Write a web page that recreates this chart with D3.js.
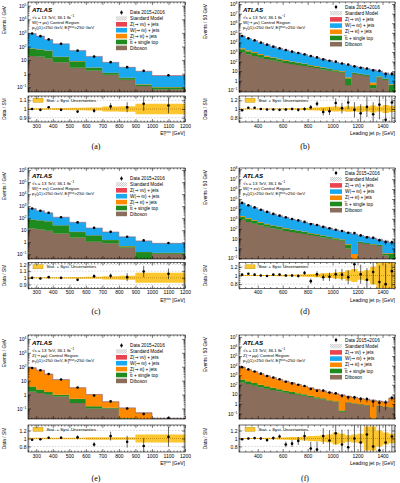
<!DOCTYPE html>
<html>
<head>
<meta charset="utf-8">
<style>
  body { margin: 0; background: #fff; }
  svg { display: block; font-family: "Liberation Sans", "DejaVu Sans", Arial, sans-serif; }
</style>
</head>
<body>
<script src="https://cdn.jsdelivr.net/npm/d3@7"></script>
<script>
// ---- binning and tick labels ----
const metEdges = [250, 300, 350, 400, 500, 600, 700, 800, 900, 1000, 1200];
const ptEdges = [250, 300, 350, 400, 450, 500, 550, 600, 650, 700, 750, 800, 850, 900, 950,
  1000, 1050, 1100, 1150, 1200, 1250, 1300, 1350, 1400, 1450, 1500];
const metTicks = [300, 400, 500, 600, 700, 800, 900, 1000, 1100, 1200];
const ptTicks = [400, 600, 800, 1000, 1200, 1400];

// ---- (a) W->munu CR, MET, events / GeV ----
const aData = [900, 575, 330, 155, 49, 18, 7, 3, 1.6, 0.75];
const aRatio = [1.0, 0.99, 1.02, 0.99, 0.97, 0.98, 1.03, 1.02, 1.06, 1.04];
const aErr = [0.005, 0.006, 0.008, 0.008, 0.014, 0.024, 0.038, 0.058, 0.08, 0.09];
const aBand = [0.01, 0.01, 0.01, 0.012, 0.014, 0.018, 0.028, 0.032, 0.06, 0.06];
const aDiboson = [20, 18, 13, 7, 2.7, 1.7, 0.84, 0.35, 0.125, 0.07];
const aTop = [50, 42, 35, 10, 5.5, 1.0, 0.3, 0.12, 0.03, 0.03];
const aZll = [4, 3, 2, 0.8, 0.3, 0.1, 0.04, 0.02, 0.01, 0.005];
const aWlnu = [825, 517, 274, 139, 42, 15.6, 5.6, 2.44, 1.34, 0.61];
const aZnn = [1.0, 0.7, 0.4, 0.2, 0.07, 0.03, 0.01, 0.005, 0.003, 0.002];

// ---- (b) W->munu CR, leading jet pT, events / 50 GeV ----
const bData = [45700, 26300, 16200, 9330, 5750, 3550, 2340, 1580, 1070, 775, 560, 374, 274, 167, 122, 97, 63, 49.5, 31.4, 22.5, 18.9, 12.3, 11, 4.9, 5.2];
const bRatio = [0.97, 1.03, 1.03, 1.0, 0.99, 0.99, 0.98, 0.99, 1.0, 0.98, 1.0, 1.04, 1.12, 0.93, 0.95, 1.14, 1.02, 1.15, 0.98, 0.9, 1.05, 0.88, 1.1, 0.75, 1.15];
const bErr = [0.005, 0.006, 0.008, 0.01, 0.013, 0.017, 0.02, 0.025, 0.03, 0.036, 0.042, 0.052, 0.061, 0.077, 0.09, 0.106, 0.124, 0.15, 0.177, 0.21, 0.235, 0.28, 0.34, 0.57, 0.45];
const bBand = [0.01, 0.01, 0.01, 0.01, 0.01, 0.012, 0.013, 0.015, 0.017, 0.02, 0.025, 0.03, 0.035, 0.045, 0.05, 0.06, 0.05, 0.065, 0.06, 0.07, 0.06, 0.08, 0.06, 0.09, 0.07];
const bDiboson = [910, 560, 375, 250, 182, 132, 95, 69, 55, 43, 34, 27, 21, 15, 11, 8.7, 6.8, 0.35, 5, 3.9, 3.1, 0.16, 2.2, 1.2, 0.07];
const bTop = [950, 590, 395, 230, 138, 103, 75, 54, 34, 26, 21, 13, 10, 8, 5.5, 3.3, 2.5, 1.4, 1.3, 1.1, 0.8, 0.2, 0.6, 0.3, 0.28];
const bZll = [550, 320, 195, 112, 70, 43, 28, 19, 13, 9.5, 6.8, 4.5, 3.2, 2.1, 1.5, 1.1, 0.8, 0.55, 0.4, 0.3, 0.22, 0.3, 0.12, 0.09, 0.07];
const bWlnu = [44630, 24000, 14710, 8726, 5412, 3307, 2189, 1456, 966, 710, 497, 315, 210, 155, 110, 71.8, 51.8, 40.6, 25.3, 19.7, 13.9, 13.3, 7.1, 4.9, 4.1];
const bZnn = [60, 35, 21, 12, 8, 5, 3.3, 2.2, 1.5, 1.1, 0.8, 0.5, 0.35, 0.25, 0.18, 0.12, 0.09, 0.06, 0.05, 0.04, 0.03, 0.02, 0.015, 0.01, 0.01];

// ---- (c) W->enu CR, MET ----
const cData = [630, 410, 280, 120, 44, 15.6, 7.2, 2.8, 1.4, 0.85];
const cRatio = [1.0, 0.99, 1.01, 1.0, 0.97, 1.025, 1.03, 1.01, 1.095, 1.06];
const cErr = [0.006, 0.007, 0.009, 0.01, 0.015, 0.025, 0.037, 0.06, 0.085, 0.08];
const cBand = [0.008, 0.008, 0.009, 0.01, 0.012, 0.015, 0.025, 0.03, 0.075, 0.075];
const cDiboson = [14, 12, 8.8, 5.2, 2.4, 1.1, 0.8, 0.36, 0.03, 0.11];
const cTop = [63, 55, 46, 20.5, 4.8, 2.6, 0.7, 0.1, 0.12, 0.02];
const cZll = [1, 0.8, 0.5, 0.3, 0.1, 0.05, 0.02, 0.01, 0.005, 0.003];
const cWlnu = [551, 346, 221, 94, 38, 11.4, 5.5, 2.3, 1.12, 0.67];
const cZnn = [0.6, 0.4, 0.3, 0.12, 0.05, 0.02, 0.01, 0.004, 0.002, 0.001];

// ---- (d) W->enu CR, leading jet pT ----
const dData = [40000, 23000, 14000, 8200, 5000, 3100, 2050, 1380, 930, 680, 480, 287, 235, 150, 110, 78, 57, 38.4, 35.3, 20.6, 13.5, 11.9, 6.8, 4.4, 4.2];
const dRatio = [1.02, 1.04, 1.02, 1.0, 0.99, 1.02, 1.02, 1.0, 1.0, 0.99, 1.06, 0.87, 1.03, 0.96, 0.97, 1.03, 1.02, 0.96, 1.26, 1.03, 0.9, 1.08, 0.85, 0.8, 1.1];
const dErr = [0.005, 0.007, 0.009, 0.011, 0.014, 0.018, 0.022, 0.027, 0.033, 0.038, 0.046, 0.059, 0.065, 0.082, 0.095, 0.113, 0.132, 0.16, 0.17, 0.22, 0.27, 0.29, 0.38, 0.48, 0.49];
const dBand = [0.01, 0.01, 0.01, 0.01, 0.012, 0.013, 0.015, 0.017, 0.02, 0.025, 0.03, 0.035, 0.04, 0.05, 0.06, 0.07, 0.08, 0.12, 0.15, 0.1, 0.12, 0.2, 0.3, 0.35, 0.3];
const dDiboson = [780, 480, 320, 215, 155, 112, 81, 59, 47, 37, 29, 23, 18, 13, 9.5, 7.5, 5.8, 1.0, 0.05, 3.5, 2.8, 2.2, 1.8, 0.2, 0.06];
const dTop = [820, 510, 340, 200, 120, 90, 65, 46, 30, 23, 18, 11, 9, 7, 4.8, 3, 2.2, 1.5, 0.02, 1, 0.7, 0.5, 0.5, 0.08, 0.25];
const dZll = [300, 170, 105, 60, 38, 23, 15, 10, 7, 5, 3.6, 2.5, 1.7, 1.1, 0.8, 0.55, 0.4, 0.3, 0.2, 0.15, 0.11, 0.08, 0.06, 0.04, 0.03];
const dWlnu = [37250, 20912, 12918, 7715, 4730, 2811, 1846, 1263, 845, 621, 402, 293, 199, 135, 97.8, 64.9, 47.5, 37.2, 27.7, 15.3, 11.4, 8.2, 5.6, 5.2, 3.45];
const dZnn = [50, 28, 17, 10, 6.5, 4, 2.6, 1.8, 1.2, 0.9, 0.6, 0.4, 0.3, 0.2, 0.15, 0.1, 0.07, 0.05, 0.04, 0.03, 0.02, 0.015, 0.01, 0.008, 0.006];

// ---- (e) Z->mumu CR, MET ----
const eData = [81, 55, 30, 12, 3.2, 0.85, 0.32, 0.1, 0.04, 0.02];
const eRatio = [0.97, 0.98, 1.02, 1.02, 1.03, 0.85, 1.06, 0.92, 0.81, 1.04];
const eErr = [0.016, 0.019, 0.026, 0.03, 0.05, 0.06, 0.11, 0.15, 0.2, 0.25];
const eBand = [0.02, 0.02, 0.02, 0.02, 0.02, 0.03, 0.03, 0.03, 0.1, 0.1];
const eDiboson = [1.66, 1.3, 0.95, 0.72, 0.25, 0.1, 0.1, 0.015, 0.01, 0.005];
const eTop = [2.1, 1.0, 0.55, 0.23, 0.24, 0.045, 0.01, 0.005, 0.002, 0.001];
const eZll = [79.4, 53.6, 27.8, 10.8, 2.6, 0.85, 0.19, 0.088, 0.036, 0.013];
const eWlnu = [0.3, 0.2, 0.1, 0.05, 0.02, 0.005, 0.002, 0.001, 0.0005, 0.0003];
const eZnn = [0.05, 0.03, 0.02, 0.01, 0.003, 0.001, 0.0005, 0.0002, 0.0001, 0.0001];

// ---- (f) Z->mumu CR, leading jet pT ----
const fData = [6860, 4000, 2440, 1450, 830, 560, 380, 204, 139, 99, 74, 36, 24, 24.4, 15.2, 13, 7.2, 4.9, 4.8, 3.3, 3.2, 1.8, 1.3, 1.4, 4.2];
const fRatio = [0.98, 1.0, 1.01, 1.0, 0.96, 1.01, 1.05, 0.85, 0.87, 0.94, 1.06, 0.75, 0.72, 1.06, 0.95, 1.13, 0.85, 0.78, 1.0, 0.9, 1.1, 0.8, 0.7, 0.9, 1.05];
const fErr = [0.012, 0.016, 0.02, 0.026, 0.035, 0.042, 0.051, 0.07, 0.085, 0.1, 0.116, 0.17, 0.2, 0.2, 0.26, 0.28, 0.37, 0.45, 0.46, 0.55, 0.56, 0.75, 0.9, 0.85, 0.49];
const fBand = [0.01, 0.01, 0.012, 0.014, 0.016, 0.02, 0.025, 0.03, 0.035, 0.04, 0.05, 0.06, 0.07, 0.08, 0.1, 0.15, 0.12, 0.08, 0.1, 0.12, 0.3, 0.3, 0.2, 0.15, 0.12];
const fDiboson = [175, 118, 80, 54, 39, 29, 21, 15, 11, 8.9, 7, 5.1, 3.7, 3, 2.1, 1.7, 0.15, 1.35, 1.07, 0.9, 0.72, 0.02, 0.62, 0.49, 0.42];
const fTop = [170, 110, 70, 44, 30, 20, 13, 8.5, 6, 4, 3, 2, 1.2, 0.8, 0.3, 0.2, 0.05, 0.15, 0.1, 0.08, 0.05, 0.01, 0.04, 0.03, 0.02];
const fZll = [6627, 3755, 2260, 1346, 793, 504, 326, 215, 142, 91.6, 59.7, 40.7, 28, 19.1, 13.5, 9.55, 8.27, 4.78, 3.61, 2.71, 2.12, 2.26, 1.23, 1.07, 3.56];
const fWlnu = [25, 15, 9, 5, 3, 2, 1.3, 0.9, 0.6, 0.4, 0.25, 0.17, 0.12, 0.08, 0.06, 0.04, 0.03, 0.02, 0.015, 0.012, 0.01, 0.008, 0.006, 0.005, 0.004];
const fZnn = [3, 2, 1.2, 0.7, 0.4, 0.3, 0.2, 0.13, 0.09, 0.06, 0.04, 0.03, 0.02, 0.015, 0.01, 0.007, 0.005, 0.004, 0.003, 0.002, 0.002, 0.001, 0.001, 0.001, 0.001];

const legendLabels = ['Z(→ νν) + jets', 'W(→ ℓν) + jets', 'Z(→ ℓℓ) + jets', 't\u0305t + single top', 'Diboson'];
const legendColors = ['#e8434f', '#1aa8ef', '#ff8a00', '#1f8b1f', '#8b6d5c'];
// stack order bottom -> top: Diboson, top, Z->ll, W->lnu, Z->nunu
const stackColors = ['#8b6d5c', '#1f8b1f', '#ff8a00', '#1aa8ef', '#e8434f'];

const cols = [
  { x0: 28, x1: 185, titleX: 6, capX: 96, legX: 116, legW: 11, legY: 10.5, legStep: 5.9, atlasX: 32, rlegX: 33, yTitle: 'Events / GeV' },
  { x0: 239, x1: 395, titleX: 207, capX: 305, legX: 330, legW: 12, legY: 5, legStep: 6.2, atlasX: 243, rlegX: 245, yTitle: 'Events / 50 GeV' }
];
const rows = [
  { mainTop: 2, mainBot: 92, rTop: 96, rBot: 122, capY: 149 },
  { mainTop: 168, mainBot: 259, rTop: 262.5, rBot: 288.5, capY: 314 },
  { mainTop: 335, mainBot: 419, rTop: 425, rBot: 452, capY: 481 }
];

const panels = [
  { tag: '(a)', col: 0, row: 0, met: true, data: aData, ratio: aRatio, err: aErr, band: aBand,
    comps: [aDiboson, aTop, aZll, aWlnu, aZnn], yExp: [-1.35, 5.27], rDom: [0.85, 1.15], rTicks: [0.9, 1, 1.1], rMinor: 0.02, region: 'W(→ μν) Control Region' },
  { tag: '(b)', col: 1, row: 0, met: false, data: bData, ratio: bRatio, err: bErr, band: bBand,
    comps: [bDiboson, bTop, bZll, bWlnu, bZnn], yExp: [-1.18, 8.21], rDom: [0.7, 1.3], rTicks: [0.8, 1, 1.2], rMinor: 0.05, region: 'W(→ μν) Control Region' },
  { tag: '(c)', col: 0, row: 1, met: true, data: cData, ratio: cRatio, err: cErr, band: cBand,
    comps: [cDiboson, cTop, cZll, cWlnu, cZnn], yExp: [-1.4, 6.17], rDom: [0.84, 1.23], rTicks: [0.9, 1, 1.1, 1.2], rMinor: 0.02, region: 'W(→ eν) Control Region' },
  { tag: '(d)', col: 1, row: 1, met: false, data: dData, ratio: dRatio, err: dErr, band: dBand,
    comps: [dDiboson, dTop, dZll, dWlnu, dZnn], yExp: [-1.07, 8.13], rDom: [0.7, 1.3], rTicks: [0.8, 1, 1.2], rMinor: 0.05, region: 'W(→ eν) Control Region' },
  { tag: '(e)', col: 0, row: 2, met: true, data: eData, ratio: eRatio, err: eErr, band: eBand,
    comps: [eDiboson, eTop, eZll, eWlnu, eZnn], yExp: [-1.76, 4.28], rDom: [0.66, 1.34], rTicks: [0.8, 1, 1.2], rMinor: 0.05, region: 'Z(→ μμ) Control Region' },
  { tag: '(f)', col: 1, row: 2, met: false, data: fData, ratio: fRatio, err: fErr, band: fBand,
    comps: [fDiboson, fTop, fZll, fWlnu, fZnn], yExp: [-1.58, 7.2], rDom: [0.66, 1.34], rTicks: [0.8, 1, 1.2], rMinor: 0.05, region: 'Z(→ μμ) Control Region' }
];

const svg = d3.select('body').append('svg').attr('width', 400).attr('height', 483);
const defs = svg.append('defs');
const hatch = defs.append('pattern').attr('id', 'hatch').attr('patternUnits', 'userSpaceOnUse')
  .attr('width', 1.5).attr('height', 1.5).attr('patternTransform', 'rotate(45)');
hatch.append('line').attr('x1', 0).attr('y1', 0).attr('x2', 0).attr('y2', 1.5)
  .attr('stroke', '#666').attr('stroke-width', 0.6);

// plain label, arrows drawn with DejaVu Sans so the glyph is present
function label(g, x, y, str, size) {
  const t = g.append('text').attr('x', x).attr('y', y).attr('font-size', size).attr('fill', '#000');
  str.split('→').forEach((part, i) => {
    if (i > 0) t.append('tspan').attr('font-family', '"DejaVu Sans", sans-serif').text('→');
    t.append('tspan').text(part);
  });
  return t;
}

// text with sub / superscripts: parts = [[text, kind, dx]]
function rich(g, x, y, parts, size, anchor) {
  const t = g.append('text').attr('x', x).attr('y', y).attr('font-size', size)
    .attr('text-anchor', anchor || 'start').attr('fill', '#000');
  let shift = 0;
  parts.forEach(([s, kind, dx]) => {
    const target = kind === 'sup' ? -0.4 * size : kind === 'sub' ? 0.28 * size : 0;
    const ts = t.append('tspan').attr('dy', target - shift).attr('font-size', kind ? size * 0.7 : size).text(s);
    if (dx) ts.attr('dx', dx);
    shift = target;
  });
  return t;
}

function styleAxis(g, size) {
  g.select('.domain').remove();
  g.attr('font-family', null).attr('font-size', size);
  g.selectAll('line').attr('stroke', '#000').attr('stroke-width', 0.5);
  g.selectAll('text').attr('fill', '#000');
}

function logLabels(g) {
  g.selectAll('.tick text').each(function (d) {
    const e = Math.round(Math.log10(d));
    const t = d3.select(this).text(null);
    if (e === 0) t.text('1');
    else if (e === 1) t.text('10');
    else {
      t.append('tspan').text('10');
      t.append('tspan').attr('dy', -2).attr('font-size', 3.4).text(e < 0 ? '−' + (-e) : String(e));
    }
  });
}

function stepPoints(edges, lo, hi) {
  const n = edges.length - 1;
  return edges.map((e, i) => {
    const j = Math.min(i, n - 1);
    return { x: e, lo: lo[j], hi: hi[j] };
  });
}

panels.forEach((p, pi) => {
  const C = cols[p.col];
  const R = rows[p.row];
  const edges = p.met ? metEdges : ptEdges;
  const n = edges.length - 1;
  const g = svg.append('g');

  const x = d3.scaleLinear().domain([edges[0], edges[n]]).range([C.x0, C.x1]);
  const yMin = Math.pow(10, p.yExp[0]);
  const y = d3.scaleLog().domain([yMin, Math.pow(10, p.yExp[1])]).range([R.mainBot, R.mainTop]).clamp(true);
  const yr = d3.scaleLinear().domain(p.rDom).range([R.rBot, R.rTop]);

  // clip paths
  defs.append('clipPath').attr('id', 'cm' + pi).append('rect')
    .attr('x', C.x0).attr('y', R.mainTop).attr('width', C.x1 - C.x0).attr('height', R.mainBot - R.mainTop);
  defs.append('clipPath').attr('id', 'cr' + pi).append('rect')
    .attr('x', C.x0).attr('y', R.rTop).attr('width', C.x1 - C.x0).attr('height', R.rBot - R.rTop);

  // ---- stacked histogram ----
  const mainG = g.append('g').attr('clip-path', `url(#cm${pi})`);
  let cum = new Array(n).fill(0);
  const area = d3.area().curve(d3.curveStepAfter)
    .x(d => x(d.x))
    .y0(d => y(d.lo > 0 ? d.lo : yMin))
    .y1(d => y(d.hi > 0 ? d.hi : yMin));
  p.comps.forEach((arr, k) => {
    const lo = cum.slice();
    cum = cum.map((c, i) => c + arr[i]);
    mainG.append('path').datum(stepPoints(edges, lo, cum))
      .attr('d', area).attr('fill', stackColors[k]).attr('stroke', stackColors[k]).attr('stroke-width', 0.2);
  });
  const total = cum;
  // SM uncertainty hatch on the stack top
  mainG.append('path')
    .datum(stepPoints(edges, total.map((t, i) => t * (1 - p.band[i])), total.map((t, i) => t * (1 + p.band[i]))))
    .attr('d', area).attr('fill', 'url(#hatch)');

  // data points
  const centers = d3.range(n).map(i => (edges[i] + edges[i + 1]) / 2);
  const dataG = g.append('g').attr('clip-path', `url(#cm${pi})`);
  dataG.selectAll('line').data(p.data).join('line')
    .attr('x1', (d, i) => x(centers[i])).attr('x2', (d, i) => x(centers[i]))
    .attr('y1', (d, i) => y(d * (1 + p.err[i]))).attr('y2', (d, i) => y(Math.max(d * (1 - p.err[i]), yMin)))
    .attr('stroke', '#000').attr('stroke-width', 0.6);
  dataG.selectAll('circle').data(p.data).join('circle')
    .attr('cx', (d, i) => x(centers[i])).attr('cy', d => y(d)).attr('r', 1.3).attr('fill', '#000');

  // ---- ratio panel ----
  const rG = g.append('g').attr('clip-path', `url(#cr${pi})`);
  const bandArea = d3.area().curve(d3.curveStepAfter)
    .x(d => x(d.x)).y0(d => yr(1 - d.lo)).y1(d => yr(1 + d.hi));
  rG.append('path').datum(stepPoints(edges, p.band, p.band)).attr('d', bandArea).attr('fill', '#fcc62e');
  p.rTicks.forEach(v => {
    rG.append('line').attr('x1', C.x0).attr('x2', C.x1).attr('y1', yr(v)).attr('y2', yr(v))
      .attr('stroke', v === 1 ? '#a87000' : '#999').attr('stroke-width', v === 1 ? 0.6 : 0.4)
      .attr('stroke-dasharray', v === 1 ? '1,1' : '1.5,1.5');
  });
  rG.selectAll('line.err').data(p.ratio).join('line').attr('class', 'err')
    .attr('x1', (d, i) => x(centers[i])).attr('x2', (d, i) => x(centers[i]))
    .attr('y1', (d, i) => yr(d + p.err[i])).attr('y2', (d, i) => yr(d - p.err[i]))
    .attr('stroke', '#000').attr('stroke-width', 0.6);
  rG.selectAll('circle').data(p.ratio).join('circle')
    .attr('cx', (d, i) => x(centers[i])).attr('cy', d => yr(d)).attr('r', 1.3).attr('fill', '#000');

  // ratio legend
  const rl = g.append('g');
  rl.append('rect').attr('x', C.rlegX).attr('y', R.rTop + 2.3).attr('width', 10).attr('height', 4)
    .attr('fill', '#fcc62e').attr('stroke', '#b08a00').attr('stroke-width', 0.4);
  rl.append('text').attr('x', C.rlegX + 13.5).attr('y', R.rTop + 5.8).attr('font-size', 4.3)
    .text('Stat. + Syst. Uncertainties');

  // ---- axes ----
  const majors = d3.range(Math.ceil(p.yExp[0]), Math.floor(p.yExp[1]) + 1).map(e => Math.pow(10, e));
  const minors = [];
  for (let e = Math.floor(p.yExp[0]); e <= Math.ceil(p.yExp[1]); e++) {
    for (let m = 2; m <= 9; m++) {
      const v = m * Math.pow(10, e);
      if (v > y.domain()[0] && v < y.domain()[1]) minors.push(v);
    }
  }
  const yl = g.append('g').attr('transform', `translate(${C.x0},0)`)
    .call(d3.axisLeft(y).tickValues(majors).tickSize(-3).tickPadding(1.5).tickFormat(d => d));
  styleAxis(yl, 5); logLabels(yl);
  styleAxis(g.append('g').attr('transform', `translate(${C.x0},0)`)
    .call(d3.axisLeft(y).tickValues(minors).tickSize(-1.5).tickFormat('')), 5);
  styleAxis(g.append('g').attr('transform', `translate(${C.x1},0)`)
    .call(d3.axisRight(y).tickValues(majors).tickSize(-3).tickFormat('')), 5);
  styleAxis(g.append('g').attr('transform', `translate(${C.x1},0)`)
    .call(d3.axisRight(y).tickValues(minors).tickSize(-1.5).tickFormat('')), 5);

  const xMaj = p.met ? metTicks : ptTicks;
  const xMin = d3.range(edges[0], edges[n] + 1, p.met ? 20 : 50).filter(v => !xMaj.includes(v));
  [[R.mainBot, d3.axisBottom], [R.mainTop, d3.axisTop], [R.rBot, d3.axisBottom], [R.rTop, d3.axisTop]].forEach(([yy, ax], k) => {
    const withLabels = k === 2;
    const ga = g.append('g').attr('transform', `translate(0,${yy})`)
      .call(ax(x).tickValues(xMaj).tickSize(-3).tickPadding(2.3).tickFormat(withLabels ? d3.format('d') : ''));
    styleAxis(ga, 5);
    styleAxis(g.append('g').attr('transform', `translate(0,${yy})`)
      .call(ax(x).tickValues(xMin).tickSize(-1.5).tickFormat('')), 5);
  });

  const rMinor = d3.range(Math.ceil(p.rDom[0] / p.rMinor) * p.rMinor, p.rDom[1], p.rMinor);
  const ryl = g.append('g').attr('transform', `translate(${C.x0},0)`)
    .call(d3.axisLeft(yr).tickValues(p.rTicks).tickSize(-3).tickPadding(1.5)
      .tickFormat(d => (d === 1 ? '1' : d3.format('.1f')(d))));
  styleAxis(ryl, 5);
  styleAxis(g.append('g').attr('transform', `translate(${C.x0},0)`)
    .call(d3.axisLeft(yr).tickValues(rMinor).tickSize(-1.5).tickFormat('')), 5);
  styleAxis(g.append('g').attr('transform', `translate(${C.x1},0)`)
    .call(d3.axisRight(yr).tickValues(p.rTicks).tickSize(-3).tickFormat('')), 5);
  styleAxis(g.append('g').attr('transform', `translate(${C.x1},0)`)
    .call(d3.axisRight(yr).tickValues(rMinor).tickSize(-1.5).tickFormat('')), 5);

  // frames
  g.append('rect').attr('x', C.x0).attr('y', R.mainTop).attr('width', C.x1 - C.x0).attr('height', R.mainBot - R.mainTop)
    .attr('fill', 'none').attr('stroke', '#000').attr('stroke-width', 0.6);
  g.append('rect').attr('x', C.x0).attr('y', R.rTop).attr('width', C.x1 - C.x0).attr('height', R.rBot - R.rTop)
    .attr('fill', 'none').attr('stroke', '#000').attr('stroke-width', 0.6);

  // axis titles
  g.append('text').attr('transform', `translate(${C.titleX},${R.mainTop + (p.col ? 2 : 4)}) rotate(-90)`)
    .attr('text-anchor', 'end').attr('font-size', 4.8).text(C.yTitle);
  g.append('text').attr('transform', `translate(${C.titleX},${(R.rTop + R.rBot) / 2}) rotate(-90)`)
    .attr('text-anchor', 'middle').attr('font-size', 4.8).text('Data / SM');
  if (p.met) {
    rich(g, C.x1, R.rBot + 13, [['E'], ['T', 'sub'], ['miss', 'sup', -2.2], [' [GeV]']], 5, 'end');
  } else {
    rich(g, C.x1, R.rBot + 13, [['Leading jet p'], ['T', 'sub'], [' [GeV]']], 5, 'end');
  }

  // ATLAS label and info
  g.append('text').attr('x', C.atlasX).attr('y', R.mainTop + 9.6).attr('font-size', 6.2)
    .attr('font-weight', 'bold').attr('font-style', 'italic').text('ATLAS');
  rich(g, C.atlasX, R.mainTop + 16.6, [['√s = 13 TeV, 36.1 fb'], ['−1', 'sup']], 4.4);
  label(g, C.atlasX, R.mainTop + 22, p.region, 4.4);
  rich(g, C.atlasX, R.mainTop + 27.4, [['p'], ['T', 'sub'], ['(j1)>250 GeV, E'], ['T', 'sub'], ['miss', 'sup', -1.5], ['>250 GeV']], 4.4);

  // legend
  const lg = g.append('g');
  const ly = i => R.mainTop + C.legY + i * C.legStep;
  const bx = C.legX, bw = C.legW, tx = C.legX + bw + 3;
  lg.append('line').attr('x1', bx + bw / 2).attr('x2', bx + bw / 2).attr('y1', ly(0) - 2.2).attr('y2', ly(0) + 2.2)
    .attr('stroke', '#000').attr('stroke-width', 0.6);
  lg.append('circle').attr('cx', bx + bw / 2).attr('cy', ly(0)).attr('r', 1.3);
  label(lg, tx, ly(0) + 1.6, 'Data 2015+2016', 4.7);
  lg.append('rect').attr('x', bx).attr('y', ly(1) - 2.2).attr('width', bw).attr('height', 4.4).attr('fill', 'url(#hatch)');
  label(lg, tx, ly(1) + 1.6, 'Standard Model', 4.7);
  legendLabels.forEach((lab, i) => {
    lg.append('rect').attr('x', bx).attr('y', ly(i + 2) - 2.3).attr('width', bw).attr('height', 4.6).attr('fill', legendColors[i]);
    label(lg, tx, ly(i + 2) + 1.6, lab, 4.7);
  });

  // caption
  g.append('text').attr('x', C.capX).attr('y', R.capY).attr('text-anchor', 'middle')
    .attr('font-family', '"Liberation Serif", serif').attr('font-size', 8).text(p.tag);
});
</script>
</body>
</html>
